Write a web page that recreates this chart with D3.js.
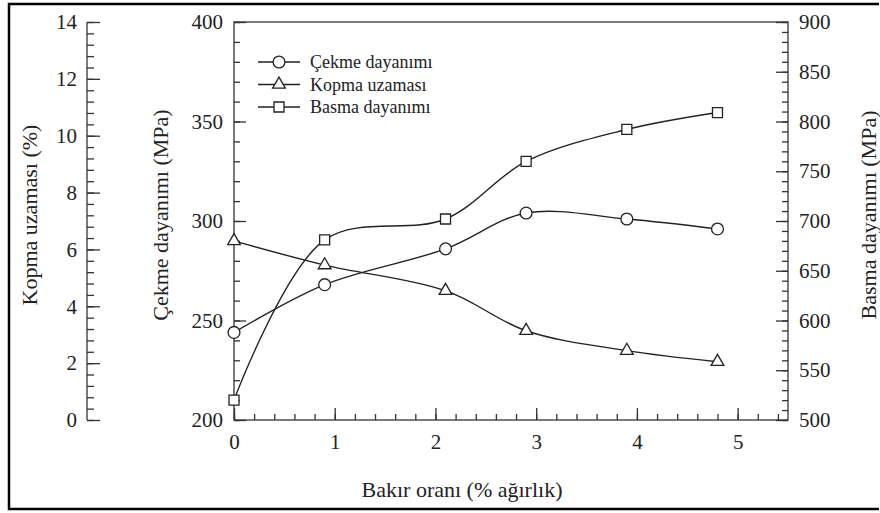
<!DOCTYPE html>
<html lang="tr">
<head>
<meta charset="UTF-8">
<script src="https://d3js.org/d3.v7.min.js"></script>
<style>
  body { margin: 0; background: #fff; }
  svg { display: block; }
  svg text { font-family: "Liberation Serif", "Times New Roman", Times, "DejaVu Serif", "Noto Serif", serif !important; }
  .axis path, .axis line { stroke: #333; stroke-width: 1.3; }
  .axis text { font-size: 21px; fill: #222; }
  .title { font-size: 22px; fill: #222; }
  .legend text { font-size: 18px; fill: #222; }
</style>
</head>
<body>
<svg id="chart" width="880" height="513"></svg>
<script>
// data
const bakir = [0, 0.9, 2.1, 2.9, 3.9, 4.8];
const cekme = [244, 268, 286, 304, 301, 296];      // MPa, left inner axis
const kopma = [6.3, 5.45, 4.55, 3.14, 2.44, 2.05]; // %, outer left axis
const basma = [520, 681, 702, 760, 792, 809];      // MPa, right axis

const xTicks = [0, 1, 2, 3, 4, 5];
const cekmeTicks = [200, 250, 300, 350, 400];
const kopmaTicks = [0, 2, 4, 6, 8, 10, 12, 14];
const basmaTicks = [500, 550, 600, 650, 700, 750, 800, 850, 900];

const seriesNames = ["Çekme dayanımı", "Kopma uzaması", "Basma dayanımı"];

const svg = d3.select("#chart");
const pLeft = 234, pRight = 788, pTop = 22, pBottom = 420;

const x = d3.scaleLinear().domain([0, 5.5]).range([pLeft, pRight]);
const yC = d3.scaleLinear().domain([200, 400]).range([pBottom, pTop]);
const yK = d3.scaleLinear().domain([0, 14]).range([pBottom, pTop]);
const yB = d3.scaleLinear().domain([500, 900]).range([pBottom, pTop]);

// outer frame
svg.append("path")
    .attr("d", "M879,4 H9 V509 H879")
    .attr("fill", "none").attr("stroke", "#000").attr("stroke-width", 2.5);

// plot box
svg.append("rect")
    .attr("x", pLeft).attr("y", pTop)
    .attr("width", pRight - pLeft).attr("height", pBottom - pTop)
    .attr("fill", "none").attr("stroke", "#333").attr("stroke-width", 1.3);

function minor(scale, step) {
  const [a, b] = scale.domain();
  return d3.range(a, b + step / 2, step);
}

// x axis
svg.append("g").attr("class", "axis")
    .attr("transform", `translate(0,${pBottom})`)
    .call(d3.axisBottom(x).tickValues(minor(x, 0.2)).tickSize(-6).tickFormat(""))
    .call(g => g.select(".domain").remove());
svg.append("g").attr("class", "axis")
    .attr("transform", `translate(0,${pBottom})`)
    .call(d3.axisBottom(x).tickValues(xTicks).tickSize(-12).tickPadding(14).tickFormat(d3.format("d")))
    .call(g => g.select(".domain").remove());

// cekme axis (inner left)
svg.append("g").attr("class", "axis")
    .attr("transform", `translate(${pLeft},0)`)
    .call(d3.axisLeft(yC).tickValues(minor(yC, 10)).tickSize(-6).tickFormat(""))
    .call(g => g.select(".domain").remove());
svg.append("g").attr("class", "axis")
    .attr("transform", `translate(${pLeft},0)`)
    .call(d3.axisLeft(yC).tickValues(cekmeTicks).tickSize(-12).tickPadding(11))
    .call(g => g.select(".domain").remove());

// basma axis (right)
svg.append("g").attr("class", "axis")
    .attr("transform", `translate(${pRight},0)`)
    .call(d3.axisRight(yB).tickValues(minor(yB, 10)).tickSize(-6).tickFormat(""))
    .call(g => g.select(".domain").remove());
svg.append("g").attr("class", "axis")
    .attr("transform", `translate(${pRight},0)`)
    .call(d3.axisRight(yB).tickValues(basmaTicks).tickSize(-12).tickPadding(11))
    .call(g => g.select(".domain").remove());

// kopma axis (outer left)
const kx = 87;
svg.append("g").attr("class", "axis")
    .attr("transform", `translate(${kx},0)`)
    .call(d3.axisLeft(yK).tickValues(minor(yK, 0.4)).tickSize(-7).tickFormat(""))
    .call(g => g.select(".domain").remove());
svg.append("g").attr("class", "axis")
    .attr("transform", `translate(${kx},0)`)
    .call(d3.axisLeft(yK).tickValues(kopmaTicks).tickSize(-13).tickPadding(10))
    .call(g => g.select(".domain").attr("d", `M0,${pTop}V${pBottom}`));

// axis titles
const midY = 215;
svg.append("text").attr("class", "title")
    .attr("transform", `translate(29,${midY}) rotate(-90)`)
    .attr("text-anchor", "middle").attr("dy", "0.35em")
    .text("Kopma uzaması (%)");
svg.append("text").attr("class", "title")
    .attr("transform", `translate(160,${midY}) rotate(-90)`)
    .attr("text-anchor", "middle").attr("dy", "0.35em")
    .text("Çekme dayanımı (MPa)");
svg.append("text").attr("class", "title")
    .attr("transform", `translate(868,${midY}) rotate(-90)`)
    .attr("text-anchor", "middle").attr("dy", "0.35em")
    .text("Basma dayanımı (MPa)");
svg.append("text").attr("class", "title")
    .attr("x", 462).attr("y", 497)
    .attr("text-anchor", "middle")
    .text("Bakır oranı (% ağırlık)");

// series
const series = [
  { name: seriesNames[0], values: cekme, y: yC, sym: d3.symbolCircle, size: 110 },
  { name: seriesNames[1], values: kopma, y: yK, sym: d3.symbolTriangle, size: 70 },
  { name: seriesNames[2], values: basma, y: yB, sym: d3.symbolSquare, size: 100 }
];

const line = s => d3.line()
    .x((d, i) => x(bakir[i]))
    .y(d => s.y(d))
    .curve(d3.curveCatmullRom.alpha(0.5));

series.forEach(s => {
  svg.append("path")
      .attr("d", line(s)(s.values))
      .attr("fill", "none").attr("stroke", "#222").attr("stroke-width", 1.4);
});

series.forEach(s => {
  svg.append("g").selectAll("path")
      .data(s.values)
      .join("path")
      .attr("transform", (d, i) => `translate(${x(bakir[i])},${s.y(d)})`)
      .attr("d", d3.symbol().type(s.sym).size(s.size))
      .attr("fill", "#fff").attr("stroke", "#222").attr("stroke-width", 1.3);
});

// legend
const legend = svg.append("g").attr("class", "legend");
series.forEach((s, i) => {
  const ly = 62 + i * 22.5;
  legend.append("line")
      .attr("x1", 258).attr("x2", 300).attr("y1", ly).attr("y2", ly)
      .attr("stroke", "#222").attr("stroke-width", 1.4);
  legend.append("path")
      .attr("transform", `translate(279,${ly})`)
      .attr("d", d3.symbol().type(s.sym).size(s.size))
      .attr("fill", "#fff").attr("stroke", "#222").attr("stroke-width", 1.3);
  legend.append("text")
      .attr("x", 310).attr("y", ly).attr("dy", "0.35em")
      .text(s.name);
});
</script>
</body>
</html>
